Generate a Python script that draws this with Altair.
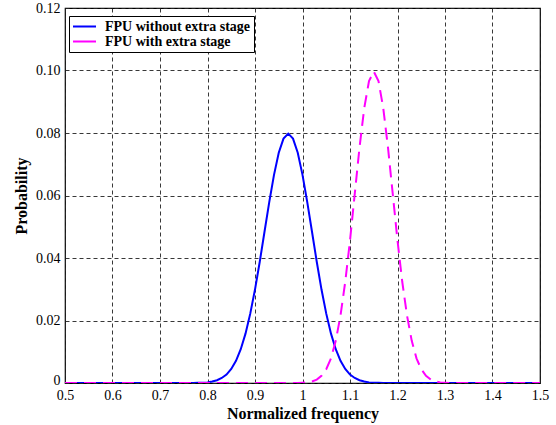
import altair as alt
import pandas as pd
import numpy as np

freq = [round(0.5 + 0.01 * i, 2) for i in range(101)]

no_stage = ([0.0] * 28 +
            [0.00005, 0.0001, 0.0002, 0.0005, 0.0009, 0.0016, 0.0027, 0.0045, 0.0071, 0.0108,
             0.0158, 0.0222, 0.0299, 0.0388, 0.0484, 0.0579, 0.0666, 0.0737, 0.0782, 0.0798,
             0.0782, 0.0737, 0.0666, 0.0579, 0.0484, 0.0388, 0.0299, 0.0222, 0.0158, 0.0108,
             0.0071, 0.0045, 0.0027, 0.0016, 0.0009, 0.0005, 0.0002, 0.0001, 0.00005] +
            [0.0] * 34)

with_stage = ([0.0] * 50 +
              [0.0001, 0.0002, 0.0005, 0.0011, 0.0023, 0.0044, 0.0079, 0.0135, 0.0216, 0.0324,
               0.0456, 0.0605, 0.0753, 0.0880, 0.0966, 0.0997, 0.0966, 0.0880, 0.0753, 0.0605,
               0.0456, 0.0324, 0.0216, 0.0135, 0.0079, 0.0044, 0.0023, 0.0011, 0.0005, 0.0002,
               0.0001] +
              [0.0] * 20)

series_names = ["FPU without extra stage", "FPU with extra stage"]
series_colors = ["#0000ff", "#ff00ff"]
x_ticks = [0.5, 0.6, 0.7, 0.8, 0.9, 1.0, 1.1, 1.2, 1.3, 1.4, 1.5]
y_ticks = [0, 0.02, 0.04, 0.06, 0.08, 0.10, 0.12]

df = pd.concat([
    pd.DataFrame({"freq": freq, "prob": no_stage, "series": series_names[0], "order": 0}),
    pd.DataFrame({"freq": freq, "prob": with_stage, "series": series_names[1], "order": 1}),
])

serif = "Liberation Serif, DejaVu Serif, serif"

base = alt.Chart(df).encode(
    x=alt.X("freq:Q", scale=alt.Scale(domain=[0.5, 1.5], nice=False),
            axis=alt.Axis(values=x_ticks, title="Normalized frequency", labelFlush=False,
                          labelExpr="format(datum.value, '~g')")),
    y=alt.Y("prob:Q", scale=alt.Scale(domain=[0, 0.12], nice=False),
            axis=alt.Axis(values=y_ticks, title="Probability",
                          labelOffset={"condition": {"test": "datum.value === 0", "value": -3}, "value": 0},
                          labelExpr="datum.value == 0 ? '0' : format(datum.value, '.2f')")),
)

solid = base.transform_filter("datum.order == 0").mark_line(strokeWidth=2, clip=True).encode(
    color=alt.Color("series:N", scale=alt.Scale(domain=series_names, range=series_colors),
                    legend=alt.Legend(title=None, orient="none", legendX=4, legendY=8)),
)
dashed = base.transform_filter("datum.order == 1").mark_line(
    strokeWidth=2, clip=True, strokeDash=[12, 7], color=series_colors[1]
)

chart = alt.layer(solid, dashed).properties(
    width=475, height=375,
    autosize=alt.AutoSizeParams(type="none"),
    padding={"left": 65, "top": 8, "right": 16, "bottom": 42},
).configure_view(
    stroke="#000", strokeWidth=1.2
).configure_axis(
    grid=True, gridColor="#222", gridDash=[4, 3], gridWidth=1, gridOpacity=0.9,
    domain=False, ticks=False,
    labelFont=serif, labelFontSize=14, labelColor="#000",
    titleFont=serif, titleFontSize=16, titleFontWeight="bold", titleColor="#000",
).configure_axisX(
    labelPadding=5, titlePadding=3,
).configure_axisY(
    labelPadding=5, titlePadding=6,
).configure_legend(
    strokeColor="#000", fillColor="#fff",
    padding=3, labelFont=serif, labelFontSize=14, labelFontWeight="bold",
    labelColor="#000", symbolType="stroke", symbolStrokeWidth=2, symbolSize=529,
    clipHeight=15, rowPadding=0, cornerRadius=0, labelOffset=8,
)

chart.save("out.html", embed_options={"renderer": "svg", "actions": False})
